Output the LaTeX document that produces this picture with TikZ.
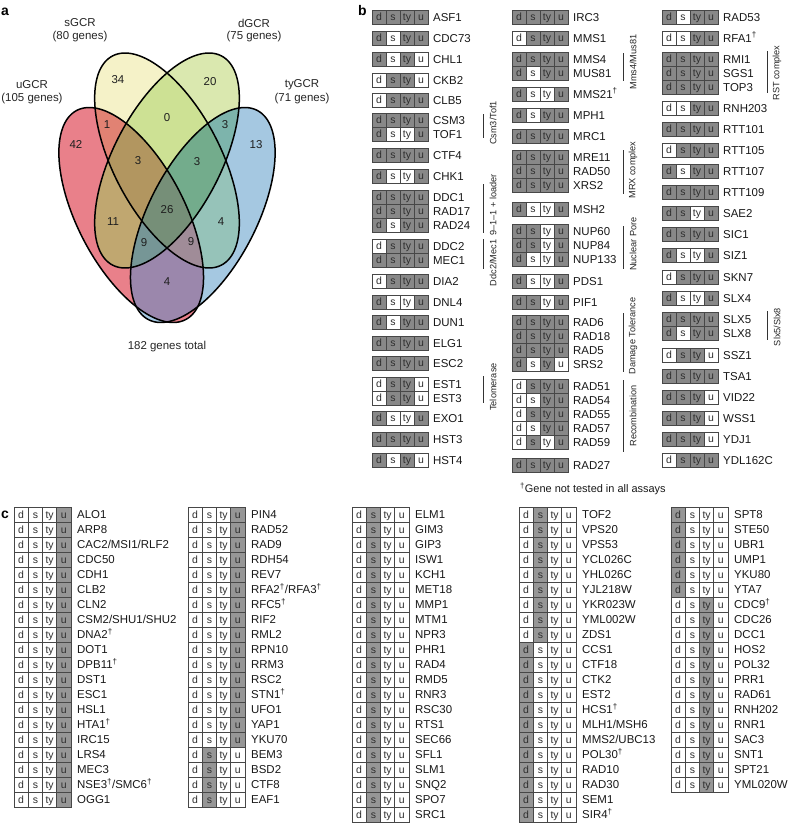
\documentclass[tikz,border=0pt]{standalone}
\usepackage{fontspec}
\setmainfont{Liberation Sans}
\newcounter{nc}
\newcommand\dagg{\textsuperscript{†}}
\definecolor{cellgray}{RGB}{136,136,136}
\definecolor{cellgrayc}{RGB}{150,150,150}
\definecolor{rA}{RGB}{233,128,138}
\definecolor{rB}{RGB}{245,242,200}
\definecolor{rC}{RGB}{218,232,175}
\definecolor{rD}{RGB}{165,200,225}
\definecolor{rAB}{RGB}{225,130,115}
\definecolor{rBC}{RGB}{205,225,148}
\definecolor{rCD}{RGB}{125,180,172}
\definecolor{rAD}{RGB}{155,135,172}
\definecolor{rBD}{RGB}{150,195,185}
\definecolor{rAC}{RGB}{192,167,112}
\definecolor{rABC}{RGB}{178,150,96}
\definecolor{rBCD}{RGB}{115,172,140}
\definecolor{rACD}{RGB}{118,150,150}
\definecolor{rABD}{RGB}{160,140,152}
\definecolor{rABCD}{RGB}{118,143,120}
\def\ellA{plot[domain=0:360,samples=181]({131.2+54.43*cos(\x)+47.63*sin(\x)},{215+104.58*cos(\x)-24.79*sin(\x)}) -- cycle}
\def\ellB{plot[domain=0:360,samples=181]({167+54.43*cos(\x)+47.63*sin(\x)},{160.5+104.58*cos(\x)-24.79*sin(\x)}) -- cycle}
\def\ellC{plot[domain=0:360,samples=181]({167-54.43*cos(\x)-47.63*sin(\x)},{160.5+104.58*cos(\x)-24.79*sin(\x)}) -- cycle}
\def\ellD{plot[domain=0:360,samples=181]({202.8-54.43*cos(\x)-47.63*sin(\x)},{215+104.58*cos(\x)-24.79*sin(\x)}) -- cycle}
\def\bigR{(-5,-5) rectangle (345,345)}
\newcommand\region[2]{\begin{scope}[even odd rule]#1\fill[#2]\bigR;\end{scope}}
\newcommand\cellrow[4]{%
  \stepcounter{nc}%
  \foreach \f [count=\i from 0] in {#3}{%
    \pgfmathsetmacro\cx{#1+\i*\cw}%
    \ifnum\f=1 \fill[\cfill] (\cx,#2-\ch/2) rectangle ++(\cw,\ch);\fi
    \draw[cellline] (\cx,#2-\ch/2) rectangle ++(\cw,\ch);
    \node[celltext] (c\arabic{nc}x\i) at (\cx+\cw/2,#2+3.8) {\ifcase\i d\or s\or ty\or u\fi};
  }%
  \node[genelabel] (g\arabic{nc}) at ({#1+4*\cw+\lgap},#2+4.1) {#4};
}
\newcommand\grp[6]{% x, y1, y2, ytext, text, name
  \draw[groupline] (#1,#2) -- (#1,#3);
  \node[grouptext] (#6) at (#1+10,#4) {#5};
}
\tikzset{
  celltext/.style={font=\fontsize{10.5}{11}\selectfont, inner sep=0pt, anchor=base, text=black!82},
  genelabel/.style={font=\fontsize{11.5}{12}\selectfont, inner sep=0pt, anchor=base west, text=black!90},
  cellline/.style={draw=black!72, line width=0.7bp},
  grouptext/.style={font=\fontsize{9.2}{10}\selectfont, rotate=90, inner sep=0pt, text=black!85},
  groupline/.style={draw=black!80, line width=0.8bp},
  panel/.style={font=\fontsize{14}{15}\selectfont\bfseries, inner sep=0pt, anchor=base west},
  vline/.style={draw=black, line width=1.5bp, line join=round},
  vnum/.style={font=\fontsize{11.5}{12}\selectfont, inner sep=0pt, text=black!88},
  vlabel/.style={font=\fontsize{11.5}{12}\selectfont, inner sep=0pt, text=black!85},
}
\begin{document}
\begin{tikzpicture}[x=1bp,y=-1bp]
\fill[white] (0,0) rectangle (788,827);
\useasboundingbox (0,0) rectangle (788,827);

% ---------------- panel a : Venn
\node[panel] (pa) at (1,15) {a};
\region{\clip \ellA; \clip \bigR \ellB; \clip \bigR \ellC; \clip \bigR \ellD;}{rA}
\region{\clip \ellB; \clip \bigR \ellA; \clip \bigR \ellC; \clip \bigR \ellD;}{rB}
\region{\clip \ellC; \clip \bigR \ellA; \clip \bigR \ellB; \clip \bigR \ellD;}{rC}
\region{\clip \ellD; \clip \bigR \ellA; \clip \bigR \ellB; \clip \bigR \ellC;}{rD}
\region{\clip \ellA; \clip \ellB; \clip \bigR \ellC; \clip \bigR \ellD;}{rAB}
\region{\clip \ellB; \clip \ellC; \clip \bigR \ellA; \clip \bigR \ellD;}{rBC}
\region{\clip \ellC; \clip \ellD; \clip \bigR \ellA; \clip \bigR \ellB;}{rCD}
\region{\clip \ellA; \clip \ellD; \clip \bigR \ellB; \clip \bigR \ellC;}{rAD}
\region{\clip \ellB; \clip \ellD; \clip \bigR \ellA; \clip \bigR \ellC;}{rBD}
\region{\clip \ellA; \clip \ellC; \clip \bigR \ellB; \clip \bigR \ellD;}{rAC}
\region{\clip \ellA; \clip \ellB; \clip \ellC; \clip \bigR \ellD;}{rABC}
\region{\clip \ellB; \clip \ellC; \clip \ellD; \clip \bigR \ellA;}{rBCD}
\region{\clip \ellA; \clip \ellC; \clip \ellD; \clip \bigR \ellB;}{rACD}
\region{\clip \ellA; \clip \ellB; \clip \ellD; \clip \bigR \ellC;}{rABD}
\region{\clip \ellA; \clip \ellB; \clip \ellC; \clip \ellD;}{rABCD}
\draw[vline] \ellA; \draw[vline] \ellB; \draw[vline] \ellC; \draw[vline] \ellD;

\node[vlabel] (ls1) at (80,23) {sGCR};
\node[vlabel] (ls2) at (80,37) {(80 genes)};
\node[vlabel] (ld1) at (254,23) {dGCR};
\node[vlabel] (ld2) at (254,37) {(75 genes)};
\node[vlabel] (lu1) at (32,85) {uGCR};
\node[vlabel] (lu2) at (32,99) {(105 genes)};
\node[vlabel] (lt1) at (302,85) {tyGCR};
\node[vlabel] (lt2) at (302,99) {(71 genes)};

\node[vnum] (n34) at (118,80) {34};
\node[vnum] (n20) at (210,82) {20};
\node[vnum] (n42) at (76,144) {42};
\node[vnum] (n13) at (256,145) {13};
\node[vnum] (n1) at (107,125) {1};
\node[vnum] (n0) at (167,118) {0};
\node[vnum] (n3a) at (225,125) {3};
\node[vnum] (n3b) at (138,161) {3};
\node[vnum] (n3c) at (197,162) {3};
\node[vnum] (n26) at (167,210) {26};
\node[vnum] (n11) at (113,222) {11};
\node[vnum] (n4a) at (221,222) {4};
\node[vnum] (n9a) at (144,243) {9};
\node[vnum] (n9b) at (191,242) {9};
\node[vnum] (n4b) at (167,282) {4};
\node[vlabel] (tot) at (167,347) {182 genes total};

% ---------------- panel b
\node[panel] (pb) at (358,15) {b};
\def\cw{14}\def\ch{14}\def\lgap{5}\def\cfill{cellgray}
% column 1
\cellrow{372}{17}{1,1,1,1}{ASF1}
\cellrow{372}{38}{1,0,1,1}{CDC73}
\cellrow{372}{59}{1,0,1,0}{CHL1}
\cellrow{372}{80}{0,1,1,0}{CKB2}
\cellrow{372}{100}{0,1,1,1}{CLB5}
\cellrow{372}{120}{1,1,1,1}{CSM3}
\cellrow{372}{134}{1,0,0,1}{TOF1}
\cellrow{372}{155}{1,1,1,1}{CTF4}
\cellrow{372}{176}{1,0,0,1}{CHK1}
\cellrow{372}{197}{1,1,1,1}{DDC1}
\cellrow{372}{211}{1,1,1,1}{RAD17}
\cellrow{372}{225}{1,0,1,1}{RAD24}
\cellrow{372}{246}{0,1,1,1}{DDC2}
\cellrow{372}{260}{1,1,1,1}{MEC1}
\cellrow{372}{281}{0,1,1,1}{DIA2}
\cellrow{372}{302}{1,0,0,1}{DNL4}
\cellrow{372}{322}{1,0,1,1}{DUN1}
\cellrow{372}{343}{1,1,1,1}{ELG1}
\cellrow{372}{363}{1,1,1,1}{ESC2}
\cellrow{372}{384}{0,1,1,0}{EST1}
\cellrow{372}{398}{0,1,1,0}{EST3}
\cellrow{372}{418}{1,0,0,1}{EXO1}
\cellrow{372}{439}{1,1,1,1}{HST3}
\cellrow{372}{460}{1,0,1,0}{HST4}
\grp{483}{114}{138}{123}{Csm3/Tof1}{gb1}
\grp{483}{184}{233}{205}{9–1–1 + loader}{gb2}
\grp{483}{239}{269}{263}{Ddc2/Mec1}{gb3}
\grp{483}{376}{403}{387}{Telomerase}{gb4}
% column 2
\cellrow{512}{17}{1,1,1,1}{IRC3}
\cellrow{512}{38}{0,1,1,1}{MMS1}
\cellrow{512}{59}{1,1,1,1}{MMS4}
\cellrow{512}{73}{1,0,1,1}{MUS81}
\cellrow{512}{94}{1,0,0,1}{MMS21\dagg}
\cellrow{512}{115}{1,0,1,1}{MPH1}
\cellrow{512}{136}{1,1,1,1}{MRC1}
\cellrow{512}{157}{1,1,1,1}{MRE11}
\cellrow{512}{171}{1,1,1,1}{RAD50}
\cellrow{512}{185}{1,1,1,1}{XRS2}
\cellrow{512}{209}{1,0,0,1}{MSH2}
\cellrow{512}{231}{1,1,0,1}{NUP60}
\cellrow{512}{245}{1,1,0,1}{NUP84}
\cellrow{512}{259}{1,0,0,1}{NUP133}
\cellrow{512}{281}{1,0,0,1}{PDS1}
\cellrow{512}{302}{1,1,0,1}{PIF1}
\cellrow{512}{322}{1,1,1,1}{RAD6}
\cellrow{512}{336}{1,1,1,1}{RAD18}
\cellrow{512}{350}{1,1,1,1}{RAD5}
\cellrow{512}{364}{1,0,1,0}{SRS2}
\cellrow{512}{386}{0,1,1,1}{RAD51}
\cellrow{512}{400}{0,0,1,1}{RAD54}
\cellrow{512}{414}{0,1,1,1}{RAD55}
\cellrow{512}{428}{0,0,1,1}{RAD57}
\cellrow{512}{442}{0,1,0,1}{RAD59}
\cellrow{512}{465}{1,1,1,1}{RAD27}
\grp{623}{53}{81}{62}{Mms4/Mus81}{gb5}
\grp{623}{150}{194}{170}{MRX complex}{gb6}
\grp{623}{226}{269}{244}{Nuclear Pore}{gb7}
\grp{623}{313}{372}{336}{Damage Tolerance}{gb8}
\grp{623}{380}{452}{416}{Recombination}{gb9}
% column 3
\cellrow{662}{17}{1,0,1,1}{RAD53}
\cellrow{662}{38}{0,0,1,1}{RFA1\dagg}
\cellrow{662}{59}{1,1,1,1}{RMI1}
\cellrow{662}{73}{1,1,1,1}{SGS1}
\cellrow{662}{87}{1,1,1,1}{TOP3}
\cellrow{662}{108}{0,0,1,1}{RNH203}
\cellrow{662}{129}{1,1,1,1}{RTT101}
\cellrow{662}{150}{0,1,1,1}{RTT105}
\cellrow{662}{171}{1,0,1,1}{RTT107}
\cellrow{662}{192}{1,1,1,1}{RTT109}
\cellrow{662}{213}{1,1,0,1}{SAE2}
\cellrow{662}{234}{1,1,1,1}{SIC1}
\cellrow{662}{255}{1,0,0,1}{SIZ1}
\cellrow{662}{277}{0,1,1,1}{SKN7}
\cellrow{662}{298}{1,0,0,1}{SLX4}
\cellrow{662}{319}{1,1,1,1}{SLX5}
\cellrow{662}{333}{1,0,1,1}{SLX8}
\cellrow{662}{355}{0,1,1,0}{SSZ1}
\cellrow{662}{376}{1,1,1,1}{TSA1}
\cellrow{662}{397}{1,1,1,0}{VID22}
\cellrow{662}{418}{1,1,1,0}{WSS1}
\cellrow{662}{439}{1,1,1,0}{YDJ1}
\cellrow{662}{460}{0,1,1,1}{YDL162C}
\grp{767}{51}{93}{73}{RST complex}{gb10}
\grp{767}{311}{340}{327}{Slx5/Slx8}{gb11}
\node[genelabel, font=\fontsize{11}{12}\selectfont] (foot) at (520,492) {\dagg Gene not tested in all assays};

% ---------------- panel c
\node[panel] (pc) at (1,518) {c};
\def\cw{14.25}\def\ch{15}\def\lgap{6}\def\cfill{cellgrayc}
\foreach \g [count=\k from 0] in {ALO1,ARP8,CAC2/MSI1/RLF2,CDC50,CDH1,CLB2,CLN2,CSM2/SHU1/SHU2,DNA2\dagg,DOT1,DPB11\dagg,DST1,ESC1,HSL1,HTA1\dagg,IRC15,LRS4,MEC3,NSE3\dagg/SMC6\dagg,OGG1}
  {\cellrow{14}{514.5+15*\k}{0,0,0,1}{\g}}
\foreach \g [count=\k from 0] in {PIN4,RAD52,RAD9,RDH54,REV7,RFA2\dagg/RFA3\dagg,RFC5\dagg,RIF2,RML2,RPN10,RRM3,RSC2,STN1\dagg,UFO1,YAP1,YKU70}
  {\cellrow{188}{514.5+15*\k}{0,0,0,1}{\g}}
\foreach \g [count=\k from 16] in {BEM3,BSD2,CTF8,EAF1}
  {\cellrow{188}{514.5+15*\k}{0,1,0,0}{\g}}
\foreach \g [count=\k from 0] in {ELM1,GIM3,GIP3,ISW1,KCH1,MET18,MMP1,MTM1,NPR3,PHR1,RAD4,RMD5,RNR3,RSC30,RTS1,SEC66,SFL1,SLM1,SNQ2,SPO7,SRC1}
  {\cellrow{352}{514.5+15*\k}{0,1,0,0}{\g}}
\foreach \g [count=\k from 0] in {TOF2,VPS20,VPS53,YCL026C,YHL026C,YJL218W,YKR023W,YML002W,ZDS1}
  {\cellrow{519}{514.5+15*\k}{0,1,0,0}{\g}}
\foreach \g [count=\k from 9] in {CCS1,CTF18,CTK2,EST2,HCS1\dagg,MLH1/MSH6,MMS2/UBC13,POL30\dagg,RAD10,RAD30,SEM1,SIR4\dagg}
  {\cellrow{519}{514.5+15*\k}{1,0,0,0}{\g}}
\foreach \g [count=\k from 0] in {SPT8,STE50,UBR1,UMP1,YKU80,YTA7}
  {\cellrow{671}{514.5+15*\k}{1,0,0,0}{\g}}
\foreach \g [count=\k from 6] in {CDC9\dagg,CDC26,DCC1,HOS2,POL32,PRR1,RAD61,RNH202,RNR1,SAC3,SNT1,SPT21,YML020W}
  {\cellrow{671}{514.5+15*\k}{0,0,1,0}{\g}}
\end{tikzpicture}
\end{document}
